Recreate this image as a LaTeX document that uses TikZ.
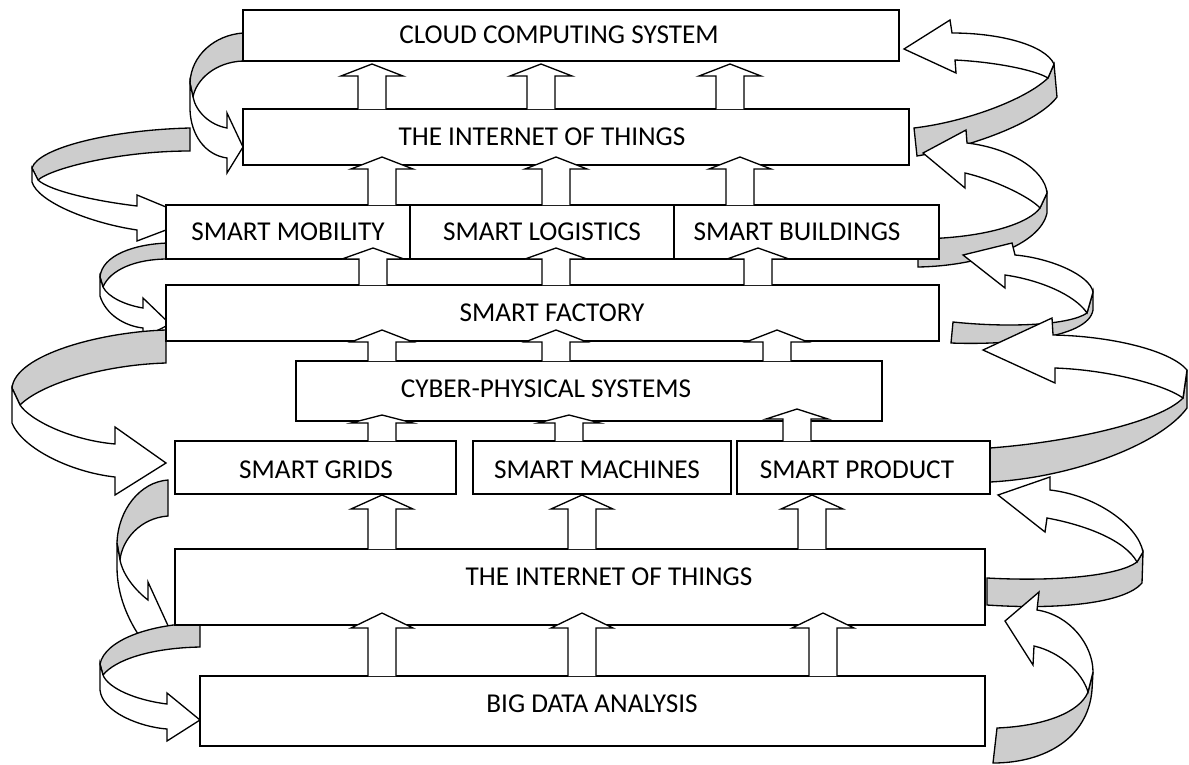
\documentclass[tikz,border=0pt]{standalone}
\usepackage{fontspec}
\setmainfont{Carlito}
\usepackage{tikz}
\usetikzlibrary{arrows.meta}
\usepackage{xcolor}
\definecolor{ribbongray}{RGB}{205,205,205}
\tikzset{
  boxline/.style={draw=black, line width=0.75pt},
  ribback/.style={boxline, fill=ribbongray},
  ribfront/.style={boxline, fill=white},
  lbl/.style={font=\fontsize{15.5}{18}\selectfont, inner sep=0pt},
}
% upward block arrow: x, tip y, head base y, foot y
\newcommand{\blockup}[4]{%
  \filldraw[boxline, fill=white] ({#1-14},#4) -- ({#1-14},#3) -- ({#1-31},#3)
    -- (#1,#2) -- ({#1+31},#3) -- ({#1+14},#3) -- ({#1+14},#4);}

\begin{document}
\begin{tikzpicture}[x=0.02cm, y=-0.02cm]
  \useasboundingbox (0,0) rectangle (1189,764);

  % Left ribbons
  \draw[ribback] (190,128) .. controls (110,130) and (38,148) .. (32,168) -- (38,180)
    .. controls (52,168) and (120,151) .. (190,151) -- cycle;
  \draw[ribfront] (32,168) -- (32,182) .. controls (38,202) and (90,223) .. (137,230) -- (137,241)
    -- (195,219) -- (137,195) -- (137,206) .. controls (95,201) and (50,191) .. (38,180) -- cycle;

  \draw[ribback] (243,33) .. controls (215,35) and (191,55) .. (190,83) -- (193,97)
    .. controls (196,80) and (215,62) .. (243,61) -- cycle;
  \draw[ribfront] (190,83) -- (190,110) .. controls (191,135) and (205,155) .. (227,158) -- (227,173)
    -- (243,147) -- (227,113) -- (227,128) .. controls (210,125) and (196,112) .. (193,97) -- cycle;

  \draw[ribback] (168,243) .. controls (135,244) and (102,255) .. (100,277) -- (103,287)
    .. controls (110,270) and (135,259) .. (168,259) -- cycle;
  \draw[ribfront] (100,277) -- (100,296) .. controls (106,315) and (125,326) .. (143,328) -- (143,338)
    -- (170,324) -- (143,298) -- (143,308) .. controls (125,305) and (108,297) .. (103,287) -- cycle;

  \draw[ribback] (166,330) .. controls (100,332) and (15,355) .. (12,388) -- (20,405)
    .. controls (40,385) and (100,365) .. (166,363) -- cycle;
  \draw[ribfront] (12,388) -- (12,423) .. controls (22,448) and (70,472) .. (115,477) -- (115,495)
    -- (166,463) -- (115,427) -- (115,444) .. controls (70,440) and (30,420) .. (20,405) -- cycle;

  \draw[ribback] (168,480) .. controls (140,482) and (118,510) .. (117,543) -- (120,560)
    .. controls (122,540) and (140,518) .. (168,516) -- cycle;
  \draw[ribfront] (117,543) -- (117,567) .. controls (117,595) and (128,620) .. (142,640) -- (170,630)
    -- (148,582) -- (148,600) .. controls (135,590) and (123,575) .. (120,560) -- cycle;

  \draw[ribback] (200,623) .. controls (150,624) and (105,640) .. (100,664) -- (103,675)
    .. controls (115,660) and (150,648) .. (200,647) -- cycle;
  \draw[ribfront] (100,664) -- (100,690) .. controls (102,712) and (140,727) .. (167,729) -- (167,741)
    -- (200,720) -- (167,693) -- (167,704) .. controls (135,700) and (108,688) .. (103,675) -- cycle;

  % Right ribbons
  \draw[ribback] (914,128) .. controls (965,122) and (1025,100) .. (1048,78) -- (1054,64) -- (1057,97)
    .. controls (1040,120) and (980,145) .. (917,156) -- cycle;
  \draw[ribfront] (1054,64) .. controls (1045,45) and (1000,33) .. (952,33) -- (950,20) -- (904,49)
    -- (956,73) -- (955,60) .. controls (995,62) and (1035,70) .. (1048,78) -- cycle;

  \draw[ribback] (918,239) .. controls (990,238) and (1030,222) .. (1040,208) -- (1047,193) -- (1047,213)
    .. controls (1040,245) and (980,266) .. (918,267) -- cycle;
  \draw[ribfront] (1047,193) .. controls (1045,170) and (1010,148) .. (967,143) -- (966,130) -- (923,153)
    -- (965,188) -- (965,173) .. controls (995,180) and (1030,197) .. (1040,208) -- cycle;

  \draw[ribback] (953,322) .. controls (1010,328) and (1070,325) .. (1087,313) -- (1093,292) -- (1093,310)
    .. controls (1088,340) and (1000,345) .. (951,343) -- cycle;
  \draw[ribfront] (1093,292) .. controls (1090,275) and (1050,258) .. (1015,255) -- (1012,243) -- (963,255)
    -- (1005,288) -- (1005,275) .. controls (1040,280) and (1075,295) .. (1087,313) -- cycle;

  \draw[ribback] (990,448) .. controls (1070,442) and (1160,422) .. (1183,398) -- (1187,370) -- (1187,408)
    .. controls (1160,445) and (1070,478) .. (990,482) -- cycle;
  \draw[ribfront] (1187,370) .. controls (1170,350) and (1110,336) .. (1053,335) -- (1052,318) -- (983,350)
    -- (1055,383) -- (1055,368) .. controls (1110,370) and (1165,385) .. (1183,398) -- cycle;

  \draw[ribback] (987,578) .. controls (1060,582) and (1120,575) .. (1137,562) -- (1143,552) -- (1142,583)
    .. controls (1125,603) and (1060,610) .. (987,605) -- cycle;
  \draw[ribfront] (1143,552) .. controls (1138,525) and (1095,495) .. (1050,490) -- (1050,477) -- (998,495)
    -- (1045,532) -- (1047,518) .. controls (1085,525) and (1125,540) .. (1137,562) -- cycle;

  \draw[ribback] (997,728) .. controls (1045,726) and (1080,712) .. (1088,692) -- (1093,672) -- (1092,690)
    .. controls (1088,738) and (1045,763) .. (993,763) -- cycle;
  \draw[ribfront] (1093,672) .. controls (1093,645) and (1070,615) .. (1037,610) -- (1039,592) -- (1005,621)
    -- (1033,665) -- (1034,646) .. controls (1060,652) and (1082,672) .. (1088,692) -- cycle;

  % Boxes
  \filldraw[boxline, fill=white] (243,10) rectangle (899,61);
  \filldraw[boxline, fill=white] (243,109) rectangle (909,165);
  \filldraw[boxline, fill=white] (166,205) rectangle (410,259);
  \filldraw[boxline, fill=white] (410,205) rectangle (674,259);
  \filldraw[boxline, fill=white] (674,205) rectangle (939,259);
  \filldraw[boxline, fill=white] (166,285) rectangle (939,341);
  \filldraw[boxline, fill=white] (296,361) rectangle (882,421);
  \filldraw[boxline, fill=white] (175,441) rectangle (456,494);
  \filldraw[boxline, fill=white] (473,441) rectangle (731,494);
  \filldraw[boxline, fill=white] (737,441) rectangle (990,494);
  \filldraw[boxline, fill=white] (175,549) rectangle (985,625);
  \filldraw[boxline, fill=white] (200,676) rectangle (985,746);

  % Upward block arrows
  \foreach \cx in {372,541,730} {\blockup{\cx}{64}{76}{109}}
  \foreach \cx in {382,556,740} {\blockup{\cx}{157}{169}{205}}
  \foreach \cx in {373,556,758} {\blockup{\cx}{248}{259}{285}}
  \foreach \cx in {382,556,777} {\blockup{\cx}{330}{342}{361}}
  \blockup{382}{415}{423}{441}
  \blockup{569}{415}{423}{441}
  \blockup{797}{409}{419}{441}
  \foreach \cx in {382,582,812} {\blockup{\cx}{495}{509}{549}}
  \foreach \cx in {382,582,823} {\blockup{\cx}{613}{628}{676}}

  % Labels
  \node[lbl] (cloud) at (559,35) {CLOUD COMPUTING SYSTEM};
  \node[lbl] (iottop) at (542,137) {THE INTERNET OF THINGS};
  \node[lbl] (mobility) at (288,232) {SMART MOBILITY};
  \node[lbl] (logistics) at (542,232) {SMART LOGISTICS};
  \node[lbl] (buildings) at (797,232) {SMART BUILDINGS};
  \node[lbl] (factory) at (552,313) {SMART FACTORY};
  \node[lbl] (cps) at (546,389) {CYBER-PHYSICAL SYSTEMS};
  \node[lbl] (grids) at (316,470) {SMART GRIDS};
  \node[lbl] (machines) at (597,470) {SMART MACHINES};
  \node[lbl] (product) at (857,470) {SMART PRODUCT};
  \node[lbl] (iotlow) at (609,577) {THE INTERNET OF THINGS};
  \node[lbl] (bigdata) at (592,704) {BIG DATA ANALYSIS};

\end{tikzpicture}
\end{document}
